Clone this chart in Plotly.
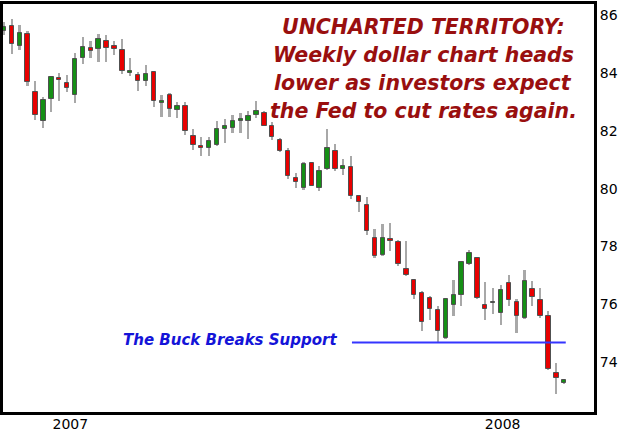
import plotly.graph_objects as go

# Weekly dollar index candles
opens  = [85.45, 85.62, 84.93, 85.34, 83.33, 82.34, 83.10, 83.84, 83.64, 83.24,
          84.51, 84.85, 84.83, 85.10, 84.93, 84.79, 83.98, 83.92, 83.73, 84.02,
          82.95, 83.22, 82.72, 82.84, 81.83, 81.46, 81.42, 81.52, 82.07, 82.09,
          82.35, 82.32, 82.55, 82.63, 82.18, 81.69, 81.29, 80.37, 80.02, 80.89,
          80.02, 80.68, 81.29, 80.69, 80.73, 79.73, 79.45, 78.30, 77.72, 78.27,
          78.15, 77.21, 76.84, 76.38, 76.21, 75.79, 74.83, 75.97, 76.31, 77.38,
          77.61, 75.97, 76.03, 75.69, 76.75, 76.08, 75.54, 76.54, 76.15, 75.60,
          73.62, 73.28]
closes = [85.60, 85.00, 85.37, 83.67, 82.53, 83.06, 83.85, 83.75, 83.49, 84.48,
          84.89, 84.77, 85.17, 84.87, 84.84, 84.07, 84.08, 83.72, 83.97, 83.03,
          83.04, 82.75, 82.84, 81.98, 81.52, 81.39, 81.66, 82.07, 82.18, 82.32,
          82.38, 82.52, 82.67, 82.17, 81.78, 81.31, 80.42, 80.22, 80.86, 80.10,
          80.60, 81.40, 80.68, 80.77, 79.76, 79.53, 78.55, 77.67, 78.30, 78.20,
          77.40, 77.01, 76.31, 75.39, 75.85, 75.08, 76.17, 76.34, 77.46, 77.76,
          76.23, 75.83, 76.07, 76.49, 76.15, 75.60, 76.80, 76.27, 75.60, 73.76,
          73.47, 73.40]
highs  = [85.75, 85.86, 85.66, 85.45, 83.72, 83.15, 83.90, 83.99, 83.93, 84.68,
          85.25, 85.10, 85.34, 85.31, 85.11, 85.16, 84.51, 84.04, 84.28, 84.04,
          83.24, 83.30, 83.01, 83.01, 82.06, 81.78, 81.80, 82.32, 82.40, 82.55,
          82.61, 82.67, 83.04, 82.67, 82.29, 81.75, 81.40, 80.54, 80.91, 80.91,
          80.77, 82.06, 81.55, 81.02, 81.14, 79.76, 79.71, 78.59, 78.76, 78.82,
          78.22, 78.18, 76.86, 76.46, 76.29, 75.94, 76.20, 76.84, 77.49, 77.87,
          77.64, 76.76, 76.58, 76.66, 77.03, 76.17, 77.18, 76.80, 76.58, 75.77,
          73.97, 73.43]
lows   = [85.30, 84.65, 84.79, 83.56, 82.38, 82.11, 82.64, 83.03, 83.33, 82.96,
          84.30, 84.53, 84.39, 84.36, 84.62, 83.97, 83.90, 83.39, 83.53, 82.82,
          82.49, 82.47, 82.44, 81.86, 81.34, 81.14, 81.14, 81.46, 81.58, 81.92,
          81.92, 81.71, 82.44, 82.15, 81.69, 81.25, 80.33, 80.02, 79.94, 80.08,
          79.91, 80.66, 80.60, 80.48, 79.64, 79.18, 78.41, 77.61, 77.67, 77.84,
          77.32, 76.98, 76.17, 75.08, 75.46, 74.70, 74.80, 75.61, 75.94, 77.35,
          76.20, 75.46, 75.66, 75.28, 75.94, 75.02, 75.48, 75.94, 75.54, 73.73,
          72.90, 73.25]
weeks = list(range(len(opens)))

year_tick_pos = [8.4, 63.2]
year_tick_text = ["2007", "2008"]
price_ticks = [74, 76, 78, 80, 82, 84, 86]
support_level = 74.68
support_start, support_end = 44.1, 71.2

UP, DOWN = "#158f15", "#e80000"

body_base = [min(o, c) for o, c in zip(opens, closes)]
body_len = [max(abs(c - o), 0.05) for o, c in zip(opens, closes)]
body_col = [UP if c >= o else DOWN for o, c in zip(opens, closes)]

fig = go.Figure()
fig.add_trace(go.Bar(x=weeks, y=[h - l for h, l in zip(highs, lows)], base=lows,
                     width=0.22, marker=dict(color="#a8a8a8", line=dict(width=0)),
                     hoverinfo="skip", showlegend=False))
fig.add_trace(go.Bar(x=weeks, y=body_len, base=body_base, width=0.56,
                     marker=dict(color=body_col, line=dict(color="#505050", width=1)),
                     showlegend=False))

fig.add_shape(type="line", x0=support_start, x1=support_end,
              y0=support_level, y1=support_level,
              line=dict(color="#3535ff", width=2))

title_lines = ["UNCHARTED TERRITORY:", "Weekly dollar chart heads",
               "lower as investors expect", "the Fed to cut rates again."]
for i, t in enumerate(title_lines):
    fig.add_annotation(xref="paper", yref="paper", x=0.711, y=1 - (23 + 28 * i) / 408,
                       text="<b><i>%s</i></b>" % t, showarrow=False,
                       xanchor="center", yanchor="middle",
                       font=dict(family="DejaVu Sans", size=20.5, color="#990f0f"))

fig.add_annotation(xref="paper", yref="paper", x=0.384, y=(412 - 340) / 408,
                   text="<b><i>The Buck Breaks Support</i></b>", showarrow=False,
                   xanchor="center", yanchor="middle",
                   font=dict(family="DejaVu Sans", size=15, color="#1414d8"))

fig.update_layout(
    width=620, height=431,
    margin=dict(l=3, r=26, t=4, b=19, autoexpand=False),
    paper_bgcolor="white", plot_bgcolor="white",
    barmode="overlay", bargap=0,
    font=dict(family="DejaVu Sans", size=14, color="black"),
    xaxis=dict(range=[-0.13, 74.78], tickvals=year_tick_pos, ticktext=year_tick_text,
               showgrid=False, zeroline=False, showline=True, mirror=True,
               linecolor="black", linewidth=3, ticks="", automargin=False,
               ticklabelstandoff=-3, tickfont=dict(size=14)),
    yaxis=dict(range=[72.28, 86.38], side="right", tickvals=price_ticks,
               showgrid=False, zeroline=False, showline=True, mirror=True,
               linecolor="black", linewidth=3, ticks="", automargin=False,
               tickfont=dict(size=14)),
)

fig.write_html("out.html", config={"displayModeBar": False},
               post_script="document.body.style.margin='0';")
